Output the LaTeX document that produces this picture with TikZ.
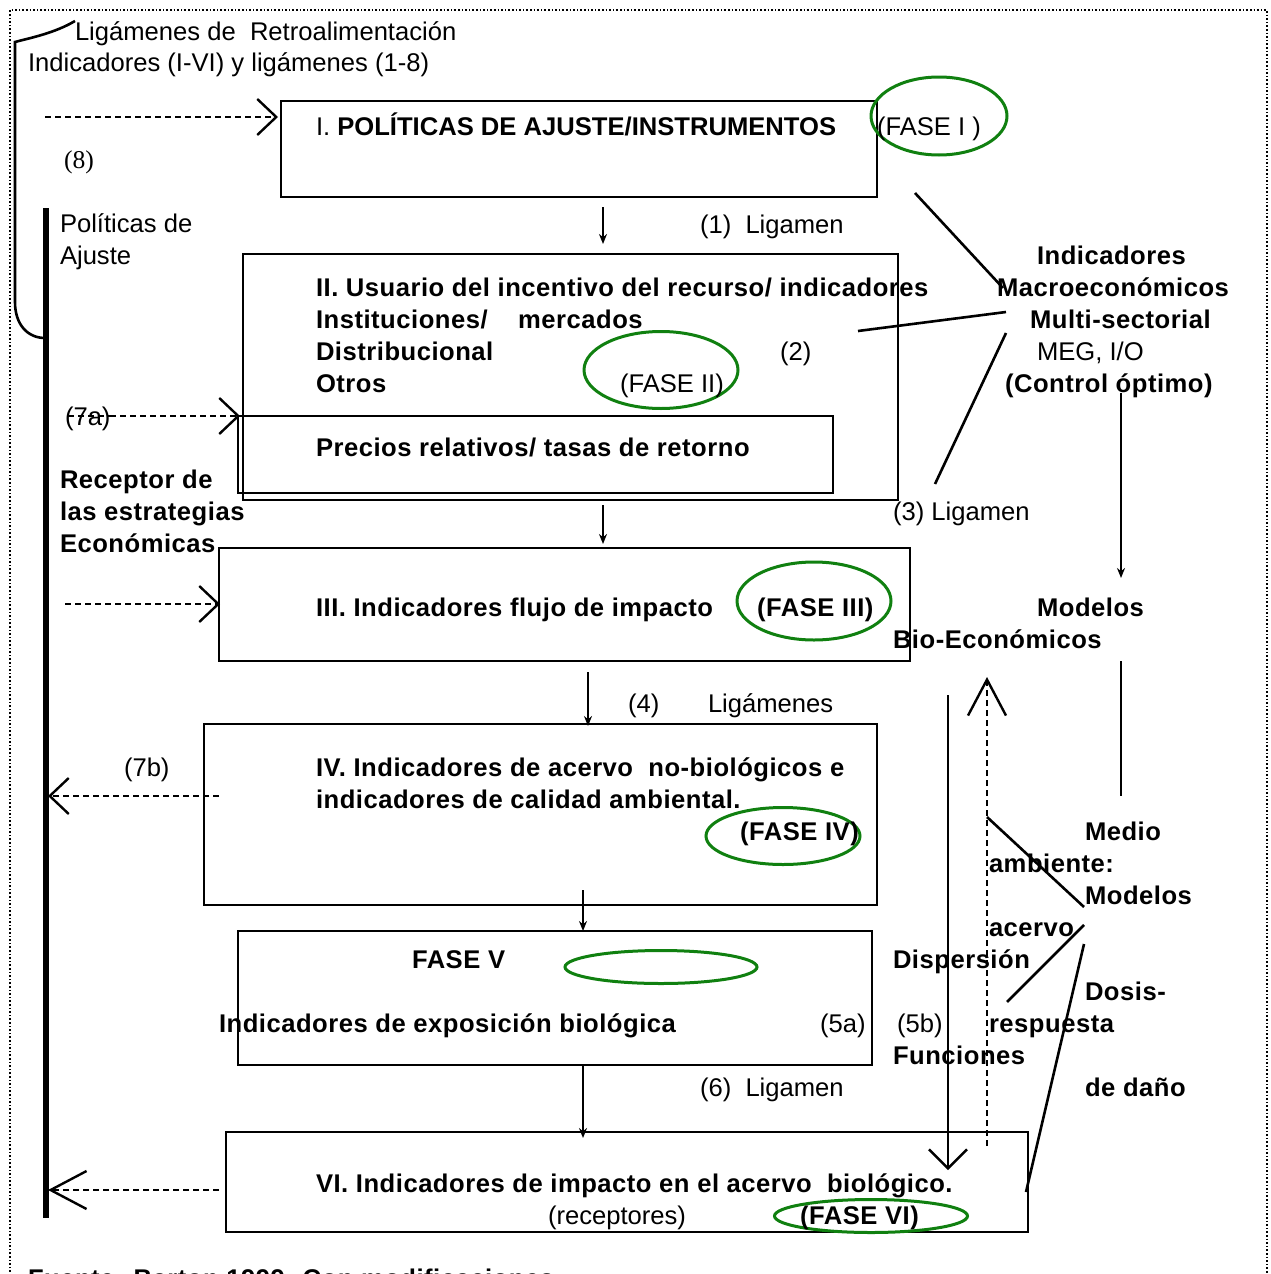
\documentclass[tikz,border=0pt]{standalone}
\usepackage{fontspec}
\setmainfont{Liberation Sans}
\newfontfamily\timesf{Liberation Serif}
\newfontfamily\boldsp[LetterSpace=2]{Liberation Sans}
\usetikzlibrary{arrows.meta,shapes.geometric}
\definecolor{fasegreen}{RGB}{16,128,16}
\newcommand\fs{\fontsize{25.6}{32}\selectfont}
\begin{document}
\begin{tikzpicture}[x=1pt,y=-1pt,
  tx/.style={anchor=base west, inner sep=0pt, outer sep=0pt, font=\fs},
  bx/.style={tx, font=\fs\boldsp\bfseries},
  box/.style={draw, line width=2.4pt, inner sep=0pt, outer sep=0pt},
  fase/.style={draw=fasegreen, line width=3pt, ellipse, inner sep=0pt},
  dsh/.style={line width=1.6pt, dash pattern=on 6pt off 4pt},
  barb/.style={-{Straight Barb[length=19pt,width=36pt,line width=2.4pt]}},
  lbarb/.style={-{Straight Barb[length=36pt,width=38pt,line width=2.4pt]}},
  arr/.style={line width=2.4pt,-{Stealth[length=10pt,width=8pt]}},
  ln/.style={line width=2.6pt}]
\useasboundingbox (0,0) rectangle (1270,1274);
\clip (0,0) rectangle (1270,1274);
% outer dotted frame
\draw[dotted, line width=1.6pt] (10,1290) -- (10,10) -- (1267,10) -- (1267,1290);
% bracket
\draw[ln] (75,21) .. controls (55,33) and (30,38) .. (15,42) -- (15,302) .. controls (15,325) and (28,338) .. (45,338);
% thick vertical
\coordinate (vtop) at (46,208);
\coordinate (vbot) at (46,1218);
\draw[line width=6pt] (vtop) -- (vbot);

% boxes
\node[box, minimum width=596pt, minimum height=96pt] (b1) at (579,149) {};
\node[box, minimum width=655pt, minimum height=246pt] (b2) at (570.5,377) {};
\node[box, minimum width=595pt, minimum height=77pt] (b2in) at (535.5,454.5) {};
\node[box, minimum width=691pt, minimum height=113pt] (b3) at (564.5,604.5) {};
\node[box, minimum width=673pt, minimum height=181pt] (b4) at (540.5,814.5) {};
\node[box, minimum width=634pt, minimum height=134pt] (b5) at (555,998) {};
\node[box, minimum width=802pt, minimum height=100pt] (b6) at (627,1182) {};

% green ellipses
\node[fase, minimum width=136pt, minimum height=78pt] (e1) at (939,116) {};
\node[fase, minimum width=154pt, minimum height=77pt] (e2) at (661,370) {};
\node[fase, minimum width=154pt, minimum height=78pt] (e3) at (814,601) {};
\node[fase, minimum width=154pt, minimum height=57pt] (e4) at (783,836) {};
\node[fase, minimum width=192pt, minimum height=33pt] (e5) at (661,967) {};
\node[fase, minimum width=193pt, minimum height=33pt] (e6) at (871,1216) {};

% texts top-left
\node[tx] (t1) at (75,40) {Ligámenes de\ \ Retroalimentación};
\node[tx] (t2) at (28,71) {Indicadores (I-VI) y ligámenes (1-8)};
\node[tx, font=\fs\timesf] (t8) at (64,168) {(8)};
\node[tx] (tpol1) at (60,232) {Políticas de};
\node[tx] (tpol2) at (60,264) {Ajuste};

% box I
\node[tx] (tI) at (316,135) {I. \textbf{POLÍTICAS DE AJUSTE/INSTRUMENTOS}};
\node[tx] (tfI) at (877,135) {(FASE I )};
\node[tx] (tl1) at (700,233) {(1)\ \ Ligamen};

% box II
\node[bx] (tII1) at (316,296) {II. Usuario del incentivo del recurso/ indicadores};
\node[bx] (tII2) at (316,328) {Instituciones/\ \ \ \ mercados};
\node[bx] (tII3) at (316,360) {Distribucional};
\node[bx] (tII4) at (316,392) {Otros};
\node[tx] (tl2) at (780,360) {(2)};
\node[tx] (tfII) at (620,392) {(FASE II)};
\node[bx] (tprec) at (316,456) {Precios relativos/ tasas de retorno};
\node[tx] (t7a) at (65,425) {(7a)};

% receptor
\node[bx] (trec1) at (60,488) {Receptor de};
\node[bx] (trec2) at (60,520) {las estrategias};
\node[bx] (trec3) at (60,552) {Económicas};
\node[tx] (tl3) at (893,520) {(3) Ligamen};

% box III
\node[bx] (tIII) at (316,616) {III. Indicadores flujo de impacto};
\node[bx] (tfIII) at (757,616) {(FASE III)};
\node[bx] (tmod) at (1037,616) {Modelos};
\node[bx] (tbio) at (893,648) {Bio-Económicos};

% right top
\node[bx] (tm1) at (1037,264) {Indicadores};
\node[bx] (tm2) at (997,296) {Macroeconómicos};
\node[bx] (tm3) at (1030,328) {Multi-sectorial};
\node[tx] (tm4) at (1037,360) {MEG, I/O};
\node[bx] (tm5) at (1005,392) {(Control óptimo)};

% box IV
\node[tx] (tl4a) at (628,712) {(4)};
\node[tx] (tl4b) at (708,712) {Ligámenes};
\node[tx] (t7b) at (124,776) {(7b)};
\node[bx] (tIV1) at (316,776) {IV. Indicadores de acervo\ \ no-biológicos e};
\node[bx] (tIV2) at (316,808) {indicadores de calidad ambiental.};
\node[bx] (tfIV) at (740,840) {(FASE IV)};

% right lower
\node[bx] (r1) at (1085,840) {Medio};
\node[bx] (r2) at (989,872) {ambiente:};
\node[bx] (r3) at (1085,904) {Modelos};
\node[bx] (r4) at (989,936) {acervo};
\node[bx] (r5) at (893,968) {Dispersión};
\node[bx] (r6) at (1085,1000) {Dosis-};
\node[tx] (r7) at (897,1032) {(5b)};
\node[bx] (r8) at (989,1032) {respuesta};
\node[bx] (r9) at (893,1064) {Funciones};
\node[bx] (r10) at (1085,1096) {de daño};

% box V
\node[bx] (tV1) at (412,968) {FASE V};
\node[bx] (tV2) at (219,1032) {Indicadores de exposición biológica};
\node[tx] (t5a) at (820,1032) {(5a)};
\node[tx] (tl6) at (700,1096) {(6)\ \ Ligamen};

% box VI
\node[bx] (tVI1) at (316,1192) {VI. Indicadores de impacto en el acervo\ \ biológico.};
\node[tx] (tVI2) at (548,1224) {(receptores)};
\node[bx] (tfVI) at (800,1224) {(FASE VI)};
\node[bx] (tfuente) at (28,1287) {Fuente: Barton 1999. Con modificaciones};

% solid down arrows
\coordinate (a1s) at (603,207); \coordinate (a1e) at (603,244);
\coordinate (a2s) at (603,505); \coordinate (a2e) at (603,544);
\coordinate (a3s) at (588,672); \coordinate (a3e) at (588,726);
\coordinate (a4s) at (583,890); \coordinate (a4e) at (583,931);
\coordinate (a5s) at (583,1064); \coordinate (a5e) at (583,1138);
\draw[arr] (a1s) -- (a1e);
\draw[arr] (a2s) -- (a2e);
\draw[arr] (a3s) -- (a3e);
\draw[arr] (a4s) -- (a4e);
\draw[arr] (a5s) -- (a5e);

% dashed feedback arrows
\coordinate (d8s) at (45,117); \coordinate (d8e) at (278,117);
\coordinate (d7as) at (110,416); \coordinate (d7ae) at (240,416);
\coordinate (d3s) at (65,604); \coordinate (d3e) at (220,604);
\coordinate (d7bs) at (219,796); \coordinate (d7be) at (48,796);
\coordinate (d6s) at (219,1190); \coordinate (d6e) at (48,1190);
\draw[dsh, barb] (d8s) -- (d8e);
\draw[dsh] (68,416) -- (d7as);
\draw[dsh, barb] (d7as) -- (d7ae);
\draw[dsh, barb] (d3s) -- (d3e);
\draw[dsh, barb] (d7bs) -- (d7be);
\draw[dsh, lbarb] (d6s) -- (d6e);

% right side lines
\coordinate (m1) at (1003,288);
\coordinate (m2) at (1006,312);
\coordinate (m3) at (1006,333);
\draw[ln] (915,193) -- (m1);
\draw[ln] (858,331) -- (m2);
\draw[ln] (935,484) -- (m3);
\coordinate (c1s) at (1121,393); \coordinate (c1e) at (1121,578);
\draw[arr] (c1s) -- (c1e);
\coordinate (c2s) at (1121,661); \coordinate (c2e) at (1121,796);
\draw[ln] (c2s) -- (c2e);
\coordinate (s1s) at (948,695); \coordinate (s1e) at (948,1170);
\draw[ln, -{Straight Barb[length=19pt,width=38pt,line width=2.4pt]}] (s1s) -- (s1e);
\coordinate (s2s) at (987,1146); \coordinate (s2e) at (987,677);
\draw[dsh, lbarb] (s2s) -- (s2e);
\coordinate (x1) at (1084,907);
\coordinate (x2) at (1084,925);
\coordinate (x3) at (1084,944);
\draw[ln] (987,817) -- (x1);
\draw[ln] (1007,1002) -- (x2);
\draw[ln] (1026,1192) -- (x3);
\end{tikzpicture}
\end{document}
